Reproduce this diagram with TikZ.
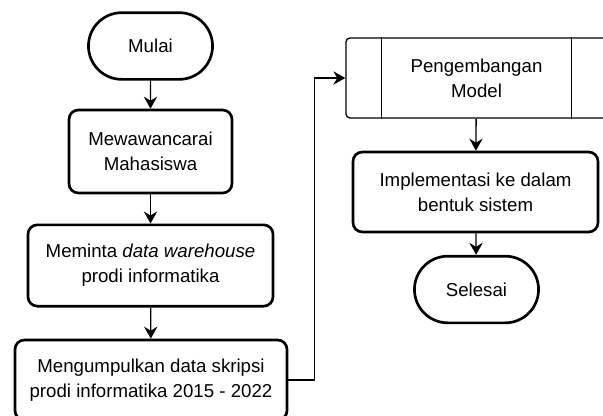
\documentclass[tikz,border=0pt]{standalone}
\usepackage{fontspec}
\setmainfont{Liberation Sans}
\usepackage{tikz}
\usetikzlibrary{arrows.meta, positioning, shapes.misc}

\begin{document}
\begin{tikzpicture}[x=0.75pt, y=-0.75pt,
    font=\fontsize{14pt}{18.75pt}\selectfont,
    terminal/.style={rounded rectangle, draw, line width=2pt, minimum width=99.75pt, minimum height=50pt},
    proses/.style={draw, line width=2pt, rounded corners=7pt, align=center, minimum height=61pt},
    subproses/.style={draw, line width=1pt, rounded corners=3pt, align=center, minimum width=195.75pt, minimum height=60pt},
    alur/.style={line width=1pt, -{Stealth[length=9pt, width=10pt, inset=3pt]}}
]

% picture frame
\clip (0,0) rectangle (603,415);

% left column
\node[terminal] (mulai) at (150.5,46) {Mulai};
\node[proses, minimum width=122.25pt, minimum height=62.25pt] (wawancara) at (150.5,151.5) {Mewawancarai\\Mahasiswa};
\node[proses, minimum width=183.75pt] (minta) at (150.5,265.5) {Meminta \textit{data warehouse}\\prodi informatika};
\node[proses, minimum width=204pt, minimum height=60pt] (kumpul) at (151,380) {Mengumpulkan data skripsi\\prodi informatika 2015 - 2022};

% right column
\node[subproses] (kembang) at (476.5,78) {Pengembangan\\Model};
\draw[line width=1pt] ([xshift=27pt]kembang.north west) -- ([xshift=27pt]kembang.south west);
\draw[line width=1pt] ([xshift=-27pt]kembang.north east) -- ([xshift=-27pt]kembang.south east);
\node[proses, minimum width=183.75pt, minimum height=60pt] (implementasi) at (475.5,192) {Implementasi ke dalam\\bentuk sistem};
\node[terminal] (selesai) at (476.5,289.5) {Selesai};

% connections
\draw[alur] (mulai) -- (wawancara);
\draw[alur] (wawancara) -- (minta);
\draw[alur] (minta) -- (kumpul);
\draw[alur] (kumpul.east) -- ++(26,0) |- (kembang.west);
\draw[alur] (kembang) -- (implementasi);
\draw[alur] (implementasi) -- (selesai);

\end{tikzpicture}
\end{document}
